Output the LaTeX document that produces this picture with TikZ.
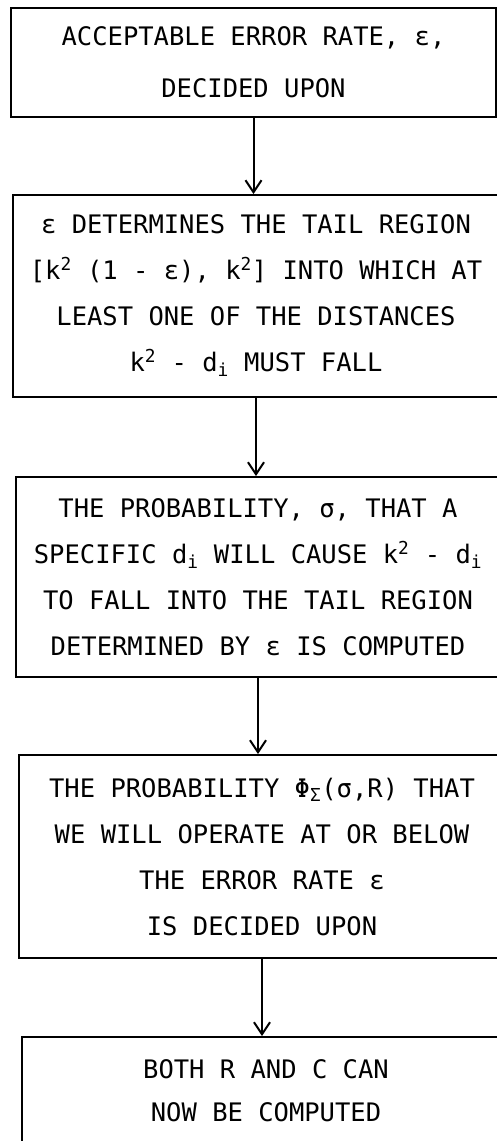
\documentclass[tikz,border=0pt]{standalone}
\usepackage{fontspec}
\usepackage{tikz}
\usetikzlibrary{arrows.meta, positioning}
\newfontfamily\typefont{DejaVu Sans Mono}
\tikzset{
	procbox/.style  ={rectangle, draw=black, line width=2pt, align=center, inner sep=0pt, font=\typefont\fontsize{25.5}{46}\selectfont},
	linkarrow/.style={-{Straight Barb[length=12pt, width=16pt, line width=2pt]}, line width=2pt},
}

\begin{document}
\begin{tikzpicture}[x=1pt, y=1pt]
	\useasboundingbox (0,0) rectangle (497,-1141);
	\clip (0,0) rectangle (497,-1141);
	% flow steps
	\node[procbox, minimum width=485pt, minimum height=109pt, font=\typefont\fontsize{25.5}{52}\selectfont] (accept) at (253.5,-62.5)
		{ACCEPTABLE ERROR RATE, ε,\\DECIDED UPON};
	\node[procbox, minimum width=486pt, minimum height=202pt] (tail) at (256,-296)
		{ε DETERMINES THE TAIL REGION\\
		 {[}k\textsuperscript{2} (1 - ε), k\textsuperscript{2}] INTO WHICH AT\\
		 LEAST ONE OF THE DISTANCES\\
		 k\textsuperscript{2} - d\textsubscript{i} MUST FALL};
	\node[procbox, minimum width=484pt, minimum height=200pt] (sigma) at (258,-577)
		{THE PROBABILITY, σ, THAT A\\
		 SPECIFIC d\textsubscript{i} WILL CAUSE k\textsuperscript{2} - d\textsubscript{i}\\
		 TO FALL INTO THE TAIL REGION\\
		 DETERMINED BY ε IS COMPUTED};
	\node[procbox, minimum width=486pt, minimum height=203pt] (phi) at (262,-856.5)
		{THE PROBABILITY Φ\textsubscript{Σ}(σ,R) THAT\\
		 WE WILL OPERATE AT OR BELOW\\
		 THE ERROR RATE ε\\
		 IS DECIDED UPON};
	\node[procbox, minimum width=488pt, minimum height=108pt, font=\typefont\fontsize{25.5}{43}\selectfont] (both) at (266,-1091)
		{BOTH R AND C CAN\\NOW BE COMPUTED};
	% connectors
	\draw[linkarrow] (accept.south) -- (accept.south |- tail.north);
	\draw[linkarrow] (tail.south) -- (tail.south |- sigma.north);
	\draw[linkarrow] (sigma.south) -- (sigma.south |- phi.north);
	\draw[linkarrow] (phi.south) -- (phi.south |- both.north);
\end{tikzpicture}
\end{document}
